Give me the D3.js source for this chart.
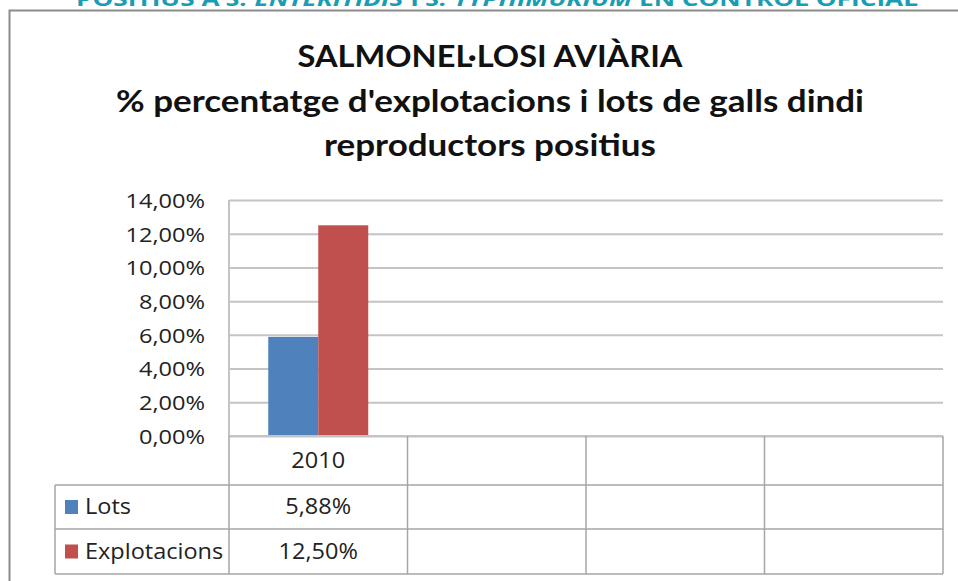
<!DOCTYPE html>
<html>
<head>
<meta charset="utf-8">
<script src="https://cdn.jsdelivr.net/npm/d3@7"></script>
<style>
  html, body { margin: 0; padding: 0; background: #fff; }
  svg { display: block; }
</style>
</head>
<body>
<div id="chart"></div>
<script>

// data
var categories = ["2010", "", "", ""];
var seriesNames = ["Lots", "Explotacions"];
var lots = [5.88, null, null, null];
var explotacions = [12.50, null, null, null];
var yTicks = [0, 2, 4, 6, 8, 10, 12, 14];
var titleLines = ["SALMONEL·LOSI AVIÀRIA",
  "% percentatge d'explotacions i lots de galls dindi",
  "reproductors positius"];

var colors = ["#4f81bd", "#c0504d"];
var series = [lots, explotacions];

var width = 958,
  height = 581,
  plot = {left: 229, right: 943, top: 200, bottom: 436},
  rowY = [436, 485, 529, 574],
  legendLeft = 55,
  gridColor = "#c4c4c4",
  tableColor = "#a6a6a6",
  font = "Lato, 'Open Sans', sans-serif",
  labelFont = "'Open Sans', sans-serif",
  stretch = 1.12;   // the original text is a bit wide

var locale = d3.formatLocale({decimal: ",", thousands: ".", grouping: [3], currency: ["", "€"]});
var pct = function(v) { return locale.format(".2f")(v) + "%"; };

var svg = d3.select("#chart").append("svg")
  .attr("width", width)
  .attr("height", height);

// text helper, widened a little like the picture
function label(parent, x, y, txt, anchor, size, sx) {
  return parent.append("text")
    .attr("transform", "translate(" + x + "," + y + ") scale(" + (sx || stretch) + ",1)")
    .attr("dy", "0.35em")
    .attr("text-anchor", anchor)
    .attr("font-family", labelFont)
    .attr("font-size", size)
    .attr("fill", "#222")
    .text(txt);
}

// clipped heading from the page above the chart
var head = svg.append("text")
  .attr("x", 76)
  .attr("y", 6)
  .attr("fill", "#1a9db3")
  .attr("font-family", "'Open Sans', sans-serif")
  .attr("font-weight", "bold")
  .attr("font-size", "20px")
  .attr("textLength", 842)
  .attr("lengthAdjust", "spacingAndGlyphs");
head.append("tspan").text("POSITIUS A ");
head.append("tspan").attr("font-style", "italic").text("S. ENTERITIDIS");
head.append("tspan").text(" I ");
head.append("tspan").attr("font-style", "italic").text("S. TYPHIMURIUM");
head.append("tspan").text(" EN CONTROL OFICIAL");

// chart frame (left + top, the right edge is cut off)
svg.append("path")
  .attr("d", "M9.5," + height + "V10.5H" + width)
  .attr("fill", "none")
  .attr("stroke", "#8c8c8c")
  .attr("stroke-width", 2);

// title
var titleY = [67, 112, 156],
  titleW = [385, 748, 332];
svg.selectAll(".title")
  .data(titleLines)
  .enter().append("text")
  .attr("class", "title")
  .attr("x", 490)
  .attr("y", function(d, i) { return titleY[i]; })
  .attr("text-anchor", "middle")
  .attr("font-family", font)
  .attr("font-weight", "bold")
  .attr("font-size", "31px")
  .attr("fill", "#111")
  .attr("textLength", function(d, i) { return titleW[i]; })
  .attr("lengthAdjust", "spacingAndGlyphs")
  .text(function(d) { return d; });

// scales
var x = d3.scaleBand()
  .domain(d3.range(categories.length))
  .range([plot.left, plot.right])
  .paddingInner(0)
  .paddingOuter(0);

var xSub = d3.scaleBand()
  .domain(d3.range(series.length))
  .range([0, x.bandwidth()])
  .paddingInner(0)
  .paddingOuter(0.785);

var y = d3.scaleLinear()
  .domain([0, 14])
  .range([plot.bottom, plot.top]);

// gridlines + y labels
var tickStretch = 1.18;
var yAxis = svg.append("g")
  .attr("transform", "translate(" + plot.left + ",0)")
  .call(d3.axisLeft(y)
    .tickValues(yTicks)
    .tickSize(-(plot.right - plot.left))
    .tickPadding(24)
    .tickFormat(pct));
yAxis.select(".domain").remove();
yAxis.selectAll(".tick line")
  .attr("stroke", gridColor)
  .attr("stroke-width", 2);
yAxis.selectAll(".tick text")
  .attr("x", -24 / tickStretch)
  .attr("dy", "0.37em")
  .attr("transform", "scale(" + tickStretch + ",1)")
  .attr("font-family", labelFont)
  .attr("font-size", "20px")
  .attr("fill", "#222");

// left edge of plot area
svg.append("line")
  .attr("x1", plot.left).attr("x2", plot.left)
  .attr("y1", plot.top).attr("y2", plot.bottom)
  .attr("stroke", gridColor)
  .attr("stroke-width", 2);

// bars
series.forEach(function(vals, s) {
  svg.append("g").selectAll("rect")
    .data(vals.map(function(v, i) { return {v: v, i: i}; }).filter(function(d) { return d.v != null; }))
    .enter().append("rect")
    .attr("x", function(d) { return x(d.i) + xSub(s); })
    .attr("y", function(d) { return y(d.v); })
    .attr("width", xSub.bandwidth())
    .attr("height", function(d) { return y(0) - y(d.v); })
    .attr("fill", colors[s]);
});

// data table
var table = svg.append("g")
  .attr("stroke", tableColor)
  .attr("stroke-width", 1.5)
  .attr("fill", "none");

// horizontal rules
table.append("line")
  .attr("x1", plot.left).attr("x2", plot.right)
  .attr("y1", rowY[0]).attr("y2", rowY[0])
  .attr("stroke", gridColor).attr("stroke-width", 2);
rowY.slice(1).forEach(function(ry) {
  table.append("line")
    .attr("x1", legendLeft).attr("x2", plot.right)
    .attr("y1", ry).attr("y2", ry);
});

// vertical rules
x.domain().concat([categories.length]).forEach(function(i) {
  var xx = i < categories.length ? x(i) : plot.right;
  table.append("line")
    .attr("x1", xx).attr("x2", xx)
    .attr("y1", rowY[0]).attr("y2", rowY[3]);
});
table.append("line")
  .attr("x1", legendLeft).attr("x2", legendLeft)
  .attr("y1", rowY[1]).attr("y2", rowY[3]);

var cellFont = "21px";

// category row
var catRow = svg.append("g");
categories.forEach(function(c, i) {
  label(catRow, x(i) + x.bandwidth() / 2, (rowY[0] + rowY[1]) / 2, c, "middle", cellFont);
});

// series rows
series.forEach(function(vals, s) {
  var cy = (rowY[s + 1] + rowY[s + 2]) / 2;
  var row = svg.append("g");

  row.append("rect")
    .attr("x", 65)
    .attr("y", cy - 7)
    .attr("width", 13)
    .attr("height", 14)
    .attr("fill", colors[s]);

  label(row, 85, cy, seriesNames[s], "start", cellFont, 1.12);

  vals.forEach(function(v, i) {
    label(row, x(i) + x.bandwidth() / 2, cy, v == null ? "" : pct(v), "middle", cellFont);
  });
});

</script>
</body>
</html>
